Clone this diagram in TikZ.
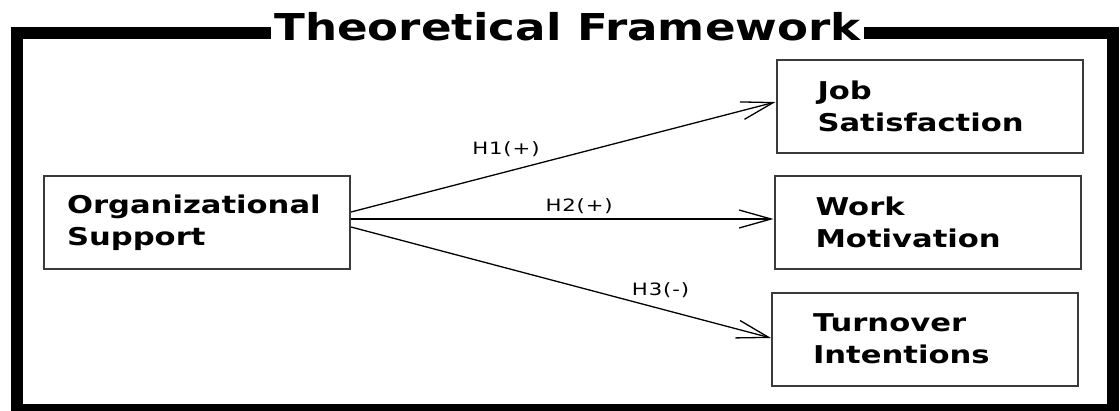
\documentclass[tikz,border=0pt]{standalone}
\usepackage{fontspec}
\usetikzlibrary{arrows.meta, positioning}
\newfontfamily\titlefont[FakeStretch=1.22]{DejaVu Sans}
\newfontfamily\boxfont[FakeStretch=1.25]{DejaVu Sans}
\newfontfamily\labfont[FakeStretch=1.25, LetterSpace=5]{DejaVu Sans}
\definecolor{frameblk}{HTML}{000000}
\definecolor{boxline}{HTML}{3A3A3A}

\begin{document}
\begin{tikzpicture}[
  x=1pt, y=-1pt,
  >={Straight Barb[length=32pt, width=18pt]},
  varbox/.style={
    draw=boxline, line width=2pt, minimum width=306pt, minimum height=93pt,
    inner xsep=#1, text width=306pt-2*#1, align=left,
    font=\boxfont\bfseries\fontsize{24.5}{32}\selectfont
  },
  arr/.style={->, line width=1.3pt, black},
  hyplabel/.style={font=\labfont\fontsize{17}{18}\selectfont, inner sep=0pt},
]

% Background
\useasboundingbox (0,0) rectangle (1120,410);
\fill[white] (0,0) rectangle (1120,410);

% Outer frame and title
\draw[frameblk, line width=12pt] (16.5,32.5) rectangle (1113,410);
\node[font=\titlefont\bfseries\fontsize{37}{40}\selectfont, fill=white,
  inner xsep=3pt, inner ysep=2pt, anchor=base] (title) at (567.5,40)
  {Theoretical Framework};

% =============================================
% Boxes
% =============================================
\node[varbox=23pt] (orgsup) at (197,222.5)
  {Organizational\\Support};

\node[varbox=41pt] (jobsat) at (929.5,106.5)
  {Job\\Satisfaction};

\node[varbox=41pt] (workmot) at (927.5,222.5)
  {Work\\Motivation};

\node[varbox=41pt] (turnint) at (925,339)
  {Turnover\\Intentions};

% =============================================
% Hypotheses
% =============================================
\draw[arr] ([yshift=10.5pt]orgsup.east) -- ([yshift=4.5pt]jobsat.west)
  node[hyplabel, pos=0.365, yshift=23pt] (h1) {H1(+)};
\draw[arr] ([yshift=3.5pt]orgsup.east) -- ([yshift=3.5pt]workmot.west)
  node[hyplabel, pos=0.54, yshift=13pt] (h2) {H2(+)};
\draw[arr] ([yshift=-4.5pt]orgsup.east) -- ([yshift=1pt]turnint.west)
  node[hyplabel, pos=0.737, yshift=19pt] (h3) {H3(-)};

\end{tikzpicture}
\end{document}
